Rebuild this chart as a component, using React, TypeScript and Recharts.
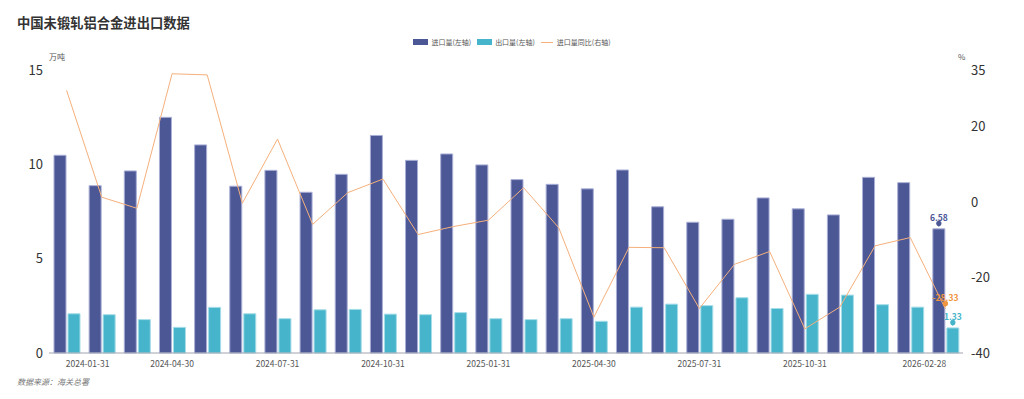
import React from 'react';
import {
  ComposedChart,
  Bar,
  Line,
  XAxis,
  YAxis,
  LabelList,
} from 'recharts';

const dates = [
  '2024-01-31', '2024-02-29', '2024-03-31', '2024-04-30', '2024-05-31', '2024-06-30',
  '2024-07-31', '2024-08-31', '2024-09-30', '2024-10-31', '2024-11-30', '2024-12-31',
  '2025-01-31', '2025-02-28', '2025-03-31', '2025-04-30', '2025-05-31', '2025-06-30',
  '2025-07-31', '2025-08-31', '2025-09-30', '2025-10-31', '2025-11-30', '2025-12-31',
  '2026-01-31', '2026-02-28',
];

// 万吨
const importVol = [
  10.48, 8.87, 9.65, 12.49, 11.03, 8.84, 9.68, 8.52, 9.47, 11.53, 10.21, 10.55, 9.97,
  9.19, 8.94, 8.7, 9.7, 7.75, 6.93, 7.09, 8.22, 7.64, 7.32, 9.31, 9.03, 6.58,
];
const exportVol = [
  2.08, 2.03, 1.77, 1.36, 2.42, 2.08, 1.82, 2.29, 2.31, 2.06, 2.03, 2.14, 1.82,
  1.77, 1.82, 1.68, 2.43, 2.59, 2.51, 2.93, 2.36, 3.11, 3.07, 2.56, 2.43, 1.33,
];
// %
const importYoy = [
  29.6, 1.3, -1.65, 34.0, 33.7, -0.3, 16.7, -5.9, 2.5, 6.1, -8.6, -6.5, -4.8,
  3.8, -6.8, -30.5, -12.0, -12.1, -28.2, -16.5, -13.1, -33.6, -27.8, -11.6, -9.4, -28.33,
];

const xTicks = [
  '2024-01-31', '2024-04-30', '2024-07-31', '2024-10-31', '2025-01-31',
  '2025-04-30', '2025-07-31', '2025-10-31', '2026-02-28',
];
const leftTicks = [0, 5, 10, 15];
const rightTicks = [-40, -20, 0, 20, 35];

const data = dates.map((d, i) => ({
  date: d,
  imp: importVol[i],
  exp: exportVol[i],
  yoy: importYoy[i],
}));

const IMP = '#4c5796';
const EXP = '#46b4ca';
const YOY = '#f5b07c';
const FONT = '"Noto Sans CJK SC", "Noto Sans", sans-serif';
const last = dates.length - 1;

const XTick = (props: any) => {
  const { x, y, payload } = props;
  let dx = 0;
  if (payload.value === dates[0]) dx = 21;
  if (payload.value === dates[last]) dx = -21;
  return (
    <text
      x={x + dx}
      y={y + 10}
      textAnchor="middle"
      dominantBaseline="central"
      fontSize={8.5}
      fill="#555"
      fontFamily={FONT}
    >
      {payload.value}
    </text>
  );
};

const pin = (color: string, isBar: boolean) => (props: any) => {
  const { x, y, width, value, index } = props;
  if (index !== last) return null;
  const cx = isBar ? Number(x) + Number(width) / 2 : Number(x);
  const top = Number(y);
  return (
    <g>
      <circle cx={cx} cy={top - 5.5} r={2.6} fill={color} />
      <path d={`M${cx - 2.2},${top - 4.2} L${cx + 2.2},${top - 4.2} L${cx},${top - 2} Z`} fill={color} />
      <text
        x={cx}
        y={top - 11.5}
        textAnchor="middle"
        dominantBaseline="central"
        fontSize={8.5}
        fontWeight={600}
        fill={color}
        fontFamily={FONT}
      >
        {Number(value).toFixed(2)}
      </text>
    </g>
  );
};

const legendItems = [
  { name: '进口量(左轴)', color: IMP, type: 'rect' },
  { name: '出口量(左轴)', color: EXP, type: 'rect' },
  { name: '进口量同比(右轴)', color: YOY, type: 'line' },
];

const App: React.FC = () => {
  return (
    <div
      style={{
        position: 'absolute',
        left: 0,
        top: 0,
        width: 1024,
        height: 399,
        background: '#fff',
        fontFamily: FONT,
      }}
    >
      <div
        style={{
          position: 'absolute',
          left: 17,
          top: 13,
          fontSize: 13.3,
          fontWeight: 700,
          color: '#333',
          whiteSpace: 'nowrap',
        }}
      >
        中国未锻轧铝合金进出口数据
      </div>

      <div
        style={{
          position: 'absolute',
          left: 0,
          width: 1024,
          top: 36,
          height: 12,
          display: 'flex',
          justifyContent: 'center',
          alignItems: 'center',
          fontSize: 7,
          color: '#555',
          paddingLeft: 0,
        }}
      >
        {legendItems.map((it) => (
          <div key={it.name} style={{ display: 'flex', alignItems: 'center', margin: '0 3px' }}>
            {it.type === 'rect' ? (
              <span style={{ display: 'inline-block', width: 15, height: 6, background: it.color, marginRight: 3 }} />
            ) : (
              <span style={{ display: 'inline-block', width: 12, height: 1, background: it.color, marginRight: 4 }} />
            )}
            <span>{it.name}</span>
          </div>
        ))}
      </div>

      <div style={{ position: 'absolute', left: 49, top: 51, fontSize: 8, color: '#555' }}>万吨</div>
      <div style={{ position: 'absolute', left: 958, top: 51, fontSize: 8, color: '#555' }}>%</div>

      <ComposedChart
        width={1024}
        height={399}
        data={data}
        margin={{ top: 70, right: 0, bottom: 0, left: 0 }}
        barSize={12}
        barGap={2}
      >
        <XAxis
          dataKey="date"
          ticks={xTicks}
          interval={0}
          height={46}
          tickLine={false}
          tickSize={0}
          tickMargin={0}
          axisLine={{ stroke: '#a0a4b0' }}
          tick={<XTick />}
        />
        <YAxis
          yAxisId="left"
          orientation="left"
          width={49}
          domain={[0, 15]}
          ticks={leftTicks}
          axisLine={false}
          tickLine={false}
          tickMargin={0}
          tick={{ fontSize: 13, fill: '#333', fontFamily: FONT }}
        />
        <YAxis
          yAxisId="right"
          orientation="right"
          width={61}
          domain={[-40, 35]}
          ticks={rightTicks}
          axisLine={false}
          tickLine={false}
          tick={{ fontSize: 13, fill: '#333', fontFamily: FONT }}
        />
        <Bar
          yAxisId="left"
          dataKey="imp"
          name="进口量(左轴)"
          fill={IMP}
          stroke="#a9afd6"
          strokeWidth={1}
          isAnimationActive={false}
        >
          <LabelList dataKey="imp" content={pin(IMP, true)} />
        </Bar>
        <Bar
          yAxisId="left"
          dataKey="exp"
          name="出口量(左轴)"
          fill={EXP}
          stroke="#a6dde8"
          strokeWidth={1}
          isAnimationActive={false}
        >
          <LabelList dataKey="exp" content={pin(EXP, true)} />
        </Bar>
        <Line
          yAxisId="right"
          dataKey="yoy"
          name="进口量同比(右轴)"
          type="linear"
          stroke={YOY}
          strokeWidth={1}
          dot={false}
          activeDot={false}
          isAnimationActive={false}
        >
          <LabelList dataKey="yoy" content={pin('#f0953f', false)} />
        </Line>
      </ComposedChart>

      <div
        style={{
          position: 'absolute',
          left: 17,
          top: 376,
          fontSize: 8,
          fontStyle: 'italic',
          color: '#777',
        }}
      >
        数据来源：海关总署
      </div>
    </div>
  );
};

export default App;
